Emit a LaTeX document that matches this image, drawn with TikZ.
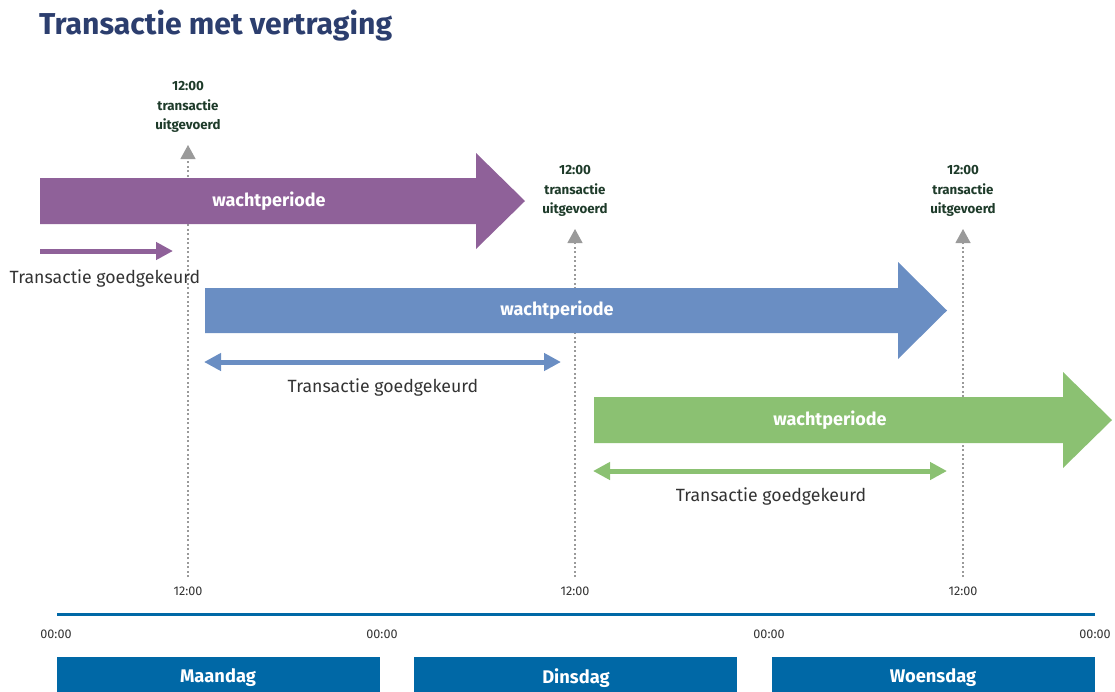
\documentclass[tikz,border=0pt]{standalone}
\usepackage{fontspec}
\setmainfont{Fira Sans}
\usetikzlibrary{arrows.meta}
\definecolor{titleblue}{HTML}{2C3E6E}
\definecolor{purp}{HTML}{8F6199}
\definecolor{blu}{HTML}{6A8EC3}
\definecolor{grn}{HTML}{8BC172}
\definecolor{daycol}{HTML}{0068A6}
\definecolor{dgreen}{HTML}{1E3B2A}
\definecolor{dotgray}{HTML}{9A9A9A}
\definecolor{txtcol}{HTML}{333333}
\tikzset{
  bigtext/.style={font=\bfseries\fontsize{18}{20}\selectfont, text=white},
  goedlbl/.style={font=\fontsize{17.7}{20}\selectfont, text=txtcol},
  uitlbl/.style={font=\bfseries\fontsize{13.3}{19.5}\selectfont, text=dgreen, align=center},
  timelbl/.style={font=\fontsize{12.6}{14}\selectfont, text=txtcol},
  daybox/.style={fill=daycol, minimum width=323pt, minimum height=40pt, inner sep=0pt},
  daytext/.style={text=white, font=\bfseries\fontsize{18.3}{20}\selectfont},
  dotline/.style={draw=dotgray, line width=1.2pt, dash pattern=on 2pt off 2.5pt, -{Triangle[length=14pt,width=15pt,fill=dotgray]}},
  smallarrow/.style={line width=5pt, -{Triangle[length=17pt,width=17pt]}},
  dblarrow/.style={line width=5pt, {Triangle[length=17pt,width=17pt]}-{Triangle[length=17pt,width=17pt]}},
}
\begin{document}
\begin{tikzpicture}[x=1pt,y=-1pt]
\useasboundingbox (0,0) rectangle (1115,691);
% title
\node[anchor=west, inner sep=0pt, text=titleblue, font=\bfseries\fontsize{30.2}{34}\selectfont] (title) at (39,26) {Transactie met vertraging};

% dotted vertical lines
\coordinate (d1b) at (188,577); \coordinate (d1t) at (188,145);
\coordinate (d2b) at (575,577); \coordinate (d2t) at (575,229);
\coordinate (d3b) at (963,577); \coordinate (d3t) at (963,229);
\draw[dotline] (d1b) -- (d1t);
\draw[dotline] (d2b) -- (d2t);
\draw[dotline] (d3b) -- (d3t);

% executed labels
\node[uitlbl, anchor=south] (u1) at (188,136) {12:00\\transactie\\uitgevoerd};
\node[uitlbl, anchor=south] (u2) at (575,220) {12:00\\transactie\\uitgevoerd};
\node[uitlbl, anchor=south] (u3) at (963,220) {12:00\\transactie\\uitgevoerd};

% purple
\fill[purp] (40,178) -- (476,178) -- (476,153) -- (525,201) -- (476,249) -- (476,224) -- (40,224) -- cycle;
\node[bigtext] (w1) at (269,201) {wachtperiode};
\coordinate (p1s) at (40,251); \coordinate (p1e) at (173,251);
\draw[smallarrow, purp] (p1s) -- (p1e);
\node[goedlbl] (g1) at (105,278) {Transactie goedgekeurd};

% blue
\fill[blu] (205,288) -- (898,288) -- (898,262) -- (947,310.5) -- (898,359) -- (898,333) -- (205,333) -- cycle;
\node[bigtext] (w2) at (557,310) {wachtperiode};
\coordinate (b1s) at (204,362); \coordinate (b1e) at (561,362);
\draw[dblarrow, blu] (b1s) -- (b1e);
\node[goedlbl] (g2) at (383,387) {Transactie goedgekeurd};

% green
\fill[grn] (594,397) -- (1063,397) -- (1063,372) -- (1112,420) -- (1063,468) -- (1063,443) -- (594,443) -- cycle;
\node[bigtext] (w3) at (830,420) {wachtperiode};
\coordinate (gr1s) at (593,471); \coordinate (gr1e) at (947,471);
\draw[dblarrow, grn] (gr1s) -- (gr1e);
\node[goedlbl] (g3) at (771,496) {Transactie goedgekeurd};

% bottom times
\node[timelbl] (t1) at (188,591) {12:00};
\node[timelbl] (t2) at (575,591) {12:00};
\node[timelbl] (t3) at (963,591) {12:00};
\coordinate (tl1) at (57,614); \coordinate (tl2) at (1095,614);
\draw[daycol, line width=3pt] (tl1) -- (tl2);
\node[timelbl] (z1) at (56,634) {00:00};
\node[timelbl] (z2) at (382,634) {00:00};
\node[timelbl] (z3) at (769,634) {00:00};
\node[timelbl] (z4) at (1095,634) {00:00};

% day boxes
\node[daybox, anchor=north west] (mon) at (57,657) {};
\node[daytext] (monl) at (218,678) {Maandag};
\node[daybox, anchor=north west] (tue) at (414,657) {};
\node[daytext] (tuel) at (576,678) {Dinsdag};
\node[daybox, anchor=north west] (wed) at (772,657) {};
\node[daytext] (wedl) at (933,678) {Woensdag};
\end{tikzpicture}
\end{document}
